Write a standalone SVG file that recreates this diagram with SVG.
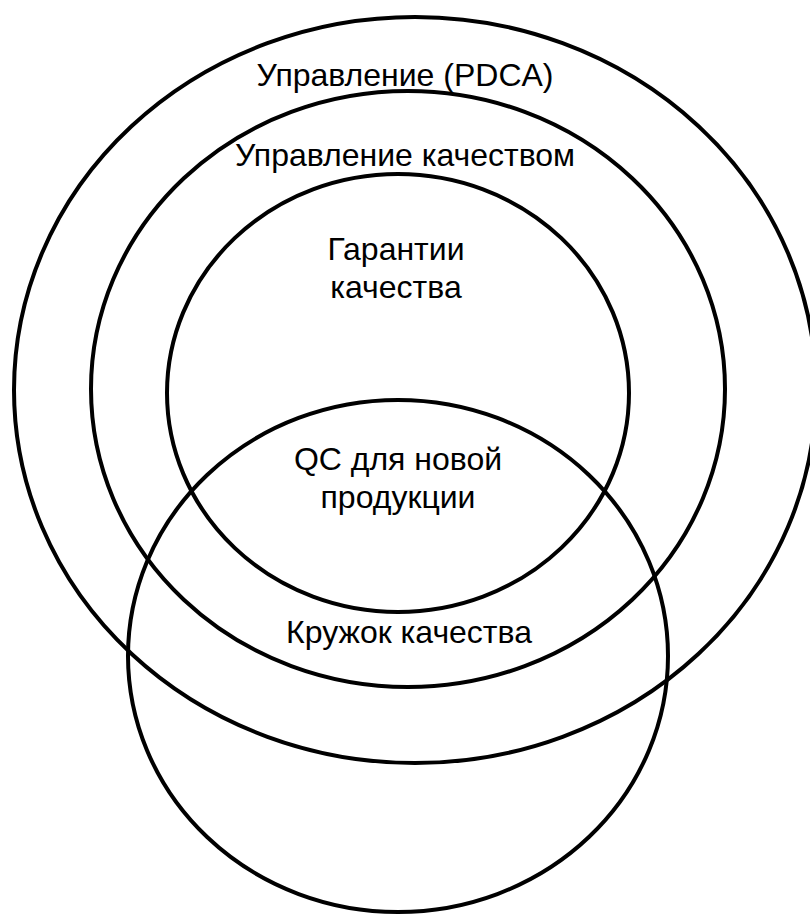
<svg xmlns="http://www.w3.org/2000/svg" width="810" height="914" viewBox="0 0 810 914">
<style>
.c{fill:none;stroke:#000;stroke-width:4}
.t{font-family:"Liberation Sans",Arial,sans-serif;font-size:32px;fill:#000;text-anchor:middle}
</style>
<rect width="810" height="914" fill="#fff"/>
<g id="outer"><ellipse class="c" cx="415" cy="390" rx="401" ry="373"/><text class="t" x="405" y="86">Управление (PDCA)</text></g>
<g id="middle"><ellipse class="c" cx="408" cy="389" rx="317" ry="298"/><text class="t" x="405" y="166">Управление качеством</text></g>
<g id="inner"><ellipse class="c" cx="398" cy="393" rx="231" ry="219"/><text class="t" x="396" y="260">Гарантии</text><text class="t" x="396" y="298">качества</text></g>
<g id="circle"><ellipse class="c" cx="398" cy="656" rx="270" ry="256"/><text class="t" x="409" y="643">Кружок качества</text></g>
<g id="overlap"><text class="t" x="398" y="470">QC для новой</text><text class="t" x="398" y="508">продукции</text></g>
<g id="connectors"/>
</svg>
